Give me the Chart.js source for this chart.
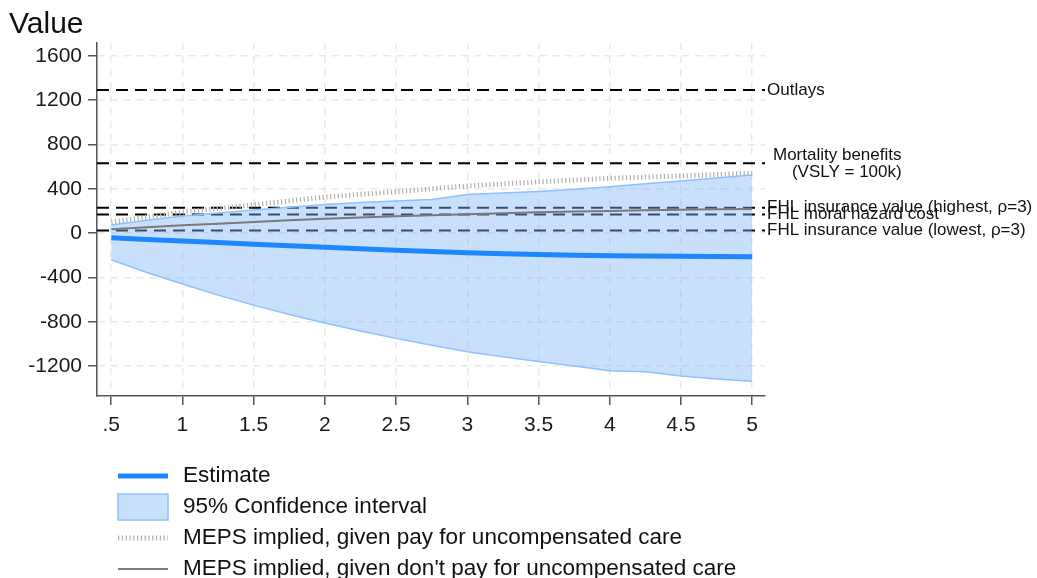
<!DOCTYPE html>
<html>
<head>
<meta charset="utf-8">
<script src="https://cdn.jsdelivr.net/npm/chart.js@4/dist/chart.umd.min.js"></script>
<style>
html, body { margin: 0; padding: 0; background: #fff; }
</style>
</head>
<body>
<canvas id="chart" width="1037" height="578"></canvas>
<script>
var ctx = document.getElementById('chart').getContext('2d');

// horizon (x) and values
var xValues = [0.5, 0.75, 1, 1.25, 1.5, 1.75, 2, 2.25, 2.5, 2.75, 3, 3.25, 3.5, 3.75, 4, 4.25, 4.5, 4.75, 5];
var estimate = [-42, -57, -72, -86, -100, -114, -128, -142, -155, -167, -178, -186, -193, -199, -204, -207, -210, -212, -213];
var ciUpper = [72, 115, 153, 182, 208, 234, 258, 275, 290, 304, 349, 362, 376, 396, 418, 444, 470, 497, 524];
var ciLower = [-241, -355, -460, -560, -650, -735, -812, -884, -950, -1012, -1071, -1117, -1158, -1200, -1242, -1251, -1290, -1316, -1338];
var mepsPay = [100, 145, 190, 222, 255, 290, 325, 350, 373, 400, 425, 444, 462, 478, 494, 505, 516, 528, 540];
var mepsNoPay = [35, 53, 70, 85, 100, 115, 130, 141, 152, 161, 170, 179, 188, 194, 200, 205, 210, 214, 218];

var refValues = [1290, 630, 228, 168, 24];
var refLabels = [
    ['Outlays'],
    ['Mortality benefits', '    (VSLY = 100k)'],
    ['FHL insurance value (highest, \u03c1=3)'],
    ['FHL moral hazard cost'],
    ['FHL insurance value (lowest, \u03c1=3)']
];

var xTickValues = [0.5, 1, 1.5, 2, 2.5, 3, 3.5, 4, 4.5, 5];
var yTickValues = [-1200, -800, -400, 0, 400, 800, 1200, 1600];
var xMin = 0.4, xMax = 5.09;
var yMin = -1470, yMax = 1715;

var FONT = '"Liberation Sans", Arial, sans-serif';

var points = function (ys) {
    var data = [];
    for (var i = 0; i < xValues.length; ++i) {
        data.push({ x: xValues[i], y: ys[i] });
    }
    return data;
};

var datasets = [
    {
        label: 'Estimate',
        data: points(estimate),
        borderColor: '#1e87ff',
        borderWidth: 5,
        pointRadius: 0,
        fill: false,
        order: 0,
        legendType: 'line',
        legendOrder: 1
    },
    {
        label: 'MEPS implied, given don\'t pay for uncompensated care',
        data: points(mepsNoPay),
        borderColor: '#7a7a7a',
        borderWidth: 2,
        pointRadius: 0,
        fill: false,
        order: 1,
        legendType: 'line',
        legendOrder: 4
    },
    {
        label: 'MEPS implied, given pay for uncompensated care',
        data: points(mepsPay),
        borderColor: '#b0b0b0',
        borderWidth: 5,
        borderDash: [1.2, 2.6],
        pointRadius: 0,
        fill: false,
        order: 2,
        legendType: 'line',
        legendOrder: 3
    },
    {
        label: 'ci lower',
        data: points(ciLower),
        borderColor: '#8cc1ff',
        borderWidth: 1.5,
        pointRadius: 0,
        fill: false,
        order: 3
    },
    {
        label: '95% Confidence interval',
        data: points(ciUpper),
        borderColor: '#8cc1ff',
        borderWidth: 1.5,
        backgroundColor: 'rgba(128, 183, 248, 0.43)',
        pointRadius: 0,
        fill: '-1',
        order: 3,
        legendType: 'box',
        legendOrder: 2
    }
];

for (var r = 0; r < refValues.length; ++r) {
    datasets.push({
        label: 'ref' + r,
        data: [{ x: xMin, y: refValues[r] }, { x: xMax, y: refValues[r] }],
        borderColor: '#000000',
        borderWidth: 2,
        borderDash: [12, 7],
        pointRadius: 0,
        fill: false,
        order: 10
    });
}

// labels to the right of the reference lines
var refLabelPlugin = {
    id: 'refLabels',
    afterDatasetsDraw: function (chart) {
        var c = chart.ctx;
        var area = chart.chartArea;
        var y = chart.scales.y;
        c.save();
        c.font = '17px ' + FONT;
        c.fillStyle = '#111';
        c.textBaseline = 'middle';
        c.textAlign = 'left';
        for (var i = 0; i < refValues.length; ++i) {
            var py = y.getPixelForValue(refValues[i]);
            var lines = refLabels[i];
            if (lines.length === 1) {
                c.fillText(lines[0], area.right + 2, py);
            } else {
                c.fillText(lines[0], area.right + 8, py - 8);
                c.fillText(lines[1], area.right + 8, py + 9);
            }
        }
        c.restore();
    }
};

// one item per row legend below the plot
var legendPlugin = {
    id: 'stackLegend',
    afterDraw: function (chart) {
        var c = chart.ctx;
        var area = chart.chartArea;
        var items = chart.data.datasets.filter(function (d) { return d.legendOrder; });
        items.sort(function (a, b) { return a.legendOrder - b.legendOrder; });
        c.save();
        c.font = '22.5px ' + FONT;
        c.textBaseline = 'middle';
        c.textAlign = 'left';
        for (var i = 0; i < items.length; ++i) {
            var d = items[i];
            var cy = area.bottom + 80 + i * 31;
            var x0 = area.left + 21, x1 = area.left + 71;
            if (d.legendType === 'box') {
                c.fillStyle = d.backgroundColor;
                c.fillRect(x0, cy - 13, x1 - x0, 26);
                c.strokeStyle = d.borderColor;
                c.lineWidth = 1.5;
                c.strokeRect(x0, cy - 13, x1 - x0, 26);
            } else {
                c.strokeStyle = d.borderColor;
                c.lineWidth = d.borderWidth;
                c.setLineDash(d.borderDash || []);
                c.beginPath();
                c.moveTo(x0, cy);
                c.lineTo(x1, cy);
                c.stroke();
                c.setLineDash([]);
            }
            c.fillStyle = '#111';
            c.fillText(d.label, area.left + 86, cy);
        }
        c.restore();
    }
};

new Chart(ctx, {
    type: 'line',
    data: { datasets: datasets },
    options: {
        responsive: false,
        animation: false,
        layout: { padding: { left: 9, right: 272, top: 0, bottom: 137 } },
        plugins: {
            legend: { display: false },
            tooltip: { enabled: false },
            title: {
                display: true,
                text: 'Value',
                align: 'start',
                color: '#111',
                font: { family: FONT, size: 30, weight: 'normal' },
                padding: { top: 7, bottom: 0 }
            }
        },
        scales: {
            x: {
                type: 'linear',
                min: xMin,
                max: xMax,
                afterBuildTicks: function (s) {
                    s.ticks = xTickValues.map(function (v) { return { value: v }; });
                },
                afterFit: function (s) { s.height = 45; },
                ticks: {
                    color: '#1a1a1a',
                    font: { family: FONT, size: 21 },
                    padding: 8,
                    maxRotation: 0,
                    callback: function (v) { return String(v).replace(/^0\./, '.'); }
                },
                grid: {
                    color: '#e9e9e9',
                    lineWidth: 1.5,
                    tickColor: '#555',
                    tickWidth: 1.5,
                    tickLength: 9
                },
                border: { color: '#555', width: 1.5, dash: [7, 6] }
            },
            y: {
                type: 'linear',
                min: yMin,
                max: yMax,
                afterBuildTicks: function (s) {
                    s.ticks = yTickValues.map(function (v) { return { value: v }; });
                },
                afterFit: function (s) { s.width = 88; },
                ticks: {
                    color: '#1a1a1a',
                    font: { family: FONT, size: 21 },
                    padding: 6,
                    callback: function (v) { return String(v); }
                },
                grid: {
                    color: '#e9e9e9',
                    lineWidth: 1.5,
                    tickColor: '#555',
                    tickWidth: 1.5,
                    tickLength: 9
                },
                border: { color: '#555', width: 1.5, dash: [7, 6] }
            }
        }
    },
    plugins: [refLabelPlugin, legendPlugin]
});
</script>
</body>
</html>
